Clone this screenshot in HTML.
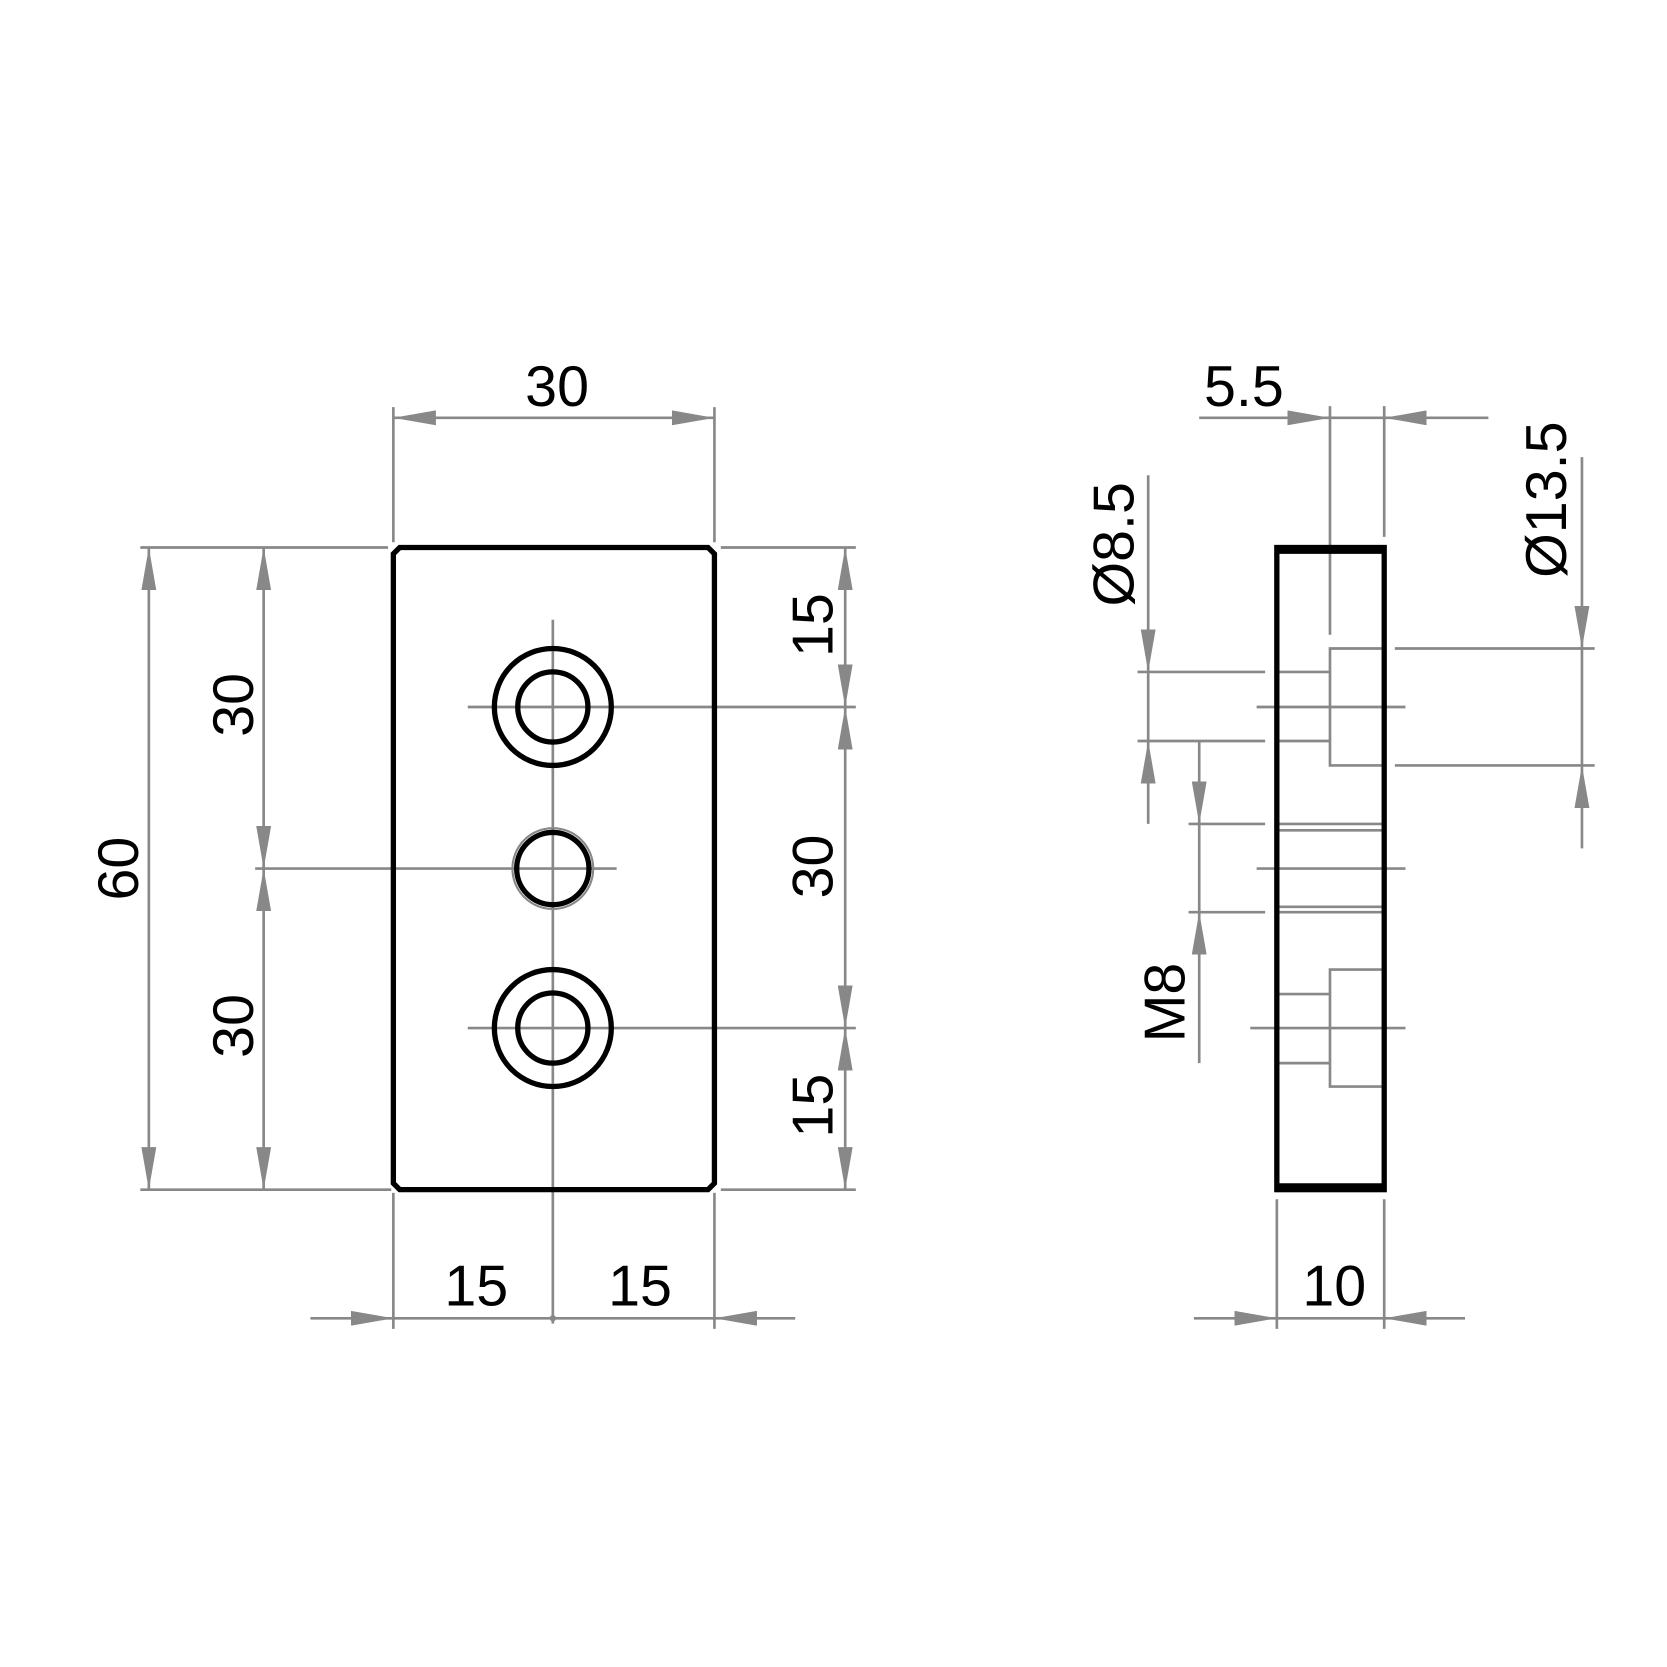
<!DOCTYPE html>
<html><head><meta charset="utf-8"><style>
html,body{margin:0;padding:0;background:#fff}
svg{display:block}
text{font-family:"Liberation Sans",sans-serif;font-size:54px;fill:#000}
</style></head><body>
<svg width="1667" height="1667" viewBox="0 0 1568 1568" xmlns="http://www.w3.org/2000/svg">
<defs>
<marker id="a" viewBox="0 0 40 14" refX="40" refY="7" markerWidth="40" markerHeight="14" markerUnits="userSpaceOnUse" orient="auto-start-reverse">
<path d="M0,0 L40,7 L0,14 z" fill="#888"/></marker>
</defs>
<g stroke="#888" stroke-width="2.5" fill="none">
<line x1="520" y1="583" x2="520" y2="1245"/>
<line x1="440" y1="665" x2="805" y2="665"/>
<line x1="240" y1="817" x2="580" y2="817"/>
<line x1="440" y1="967" x2="805" y2="967"/>
<line x1="370" y1="383" x2="370" y2="510"/>
<line x1="672" y1="383" x2="672" y2="510"/>
<line x1="132" y1="515" x2="365" y2="515"/>
<line x1="132" y1="1119" x2="368" y2="1119"/>
<line x1="678" y1="515" x2="805" y2="515"/>
<line x1="678" y1="1119" x2="805" y2="1119"/>
<line x1="370" y1="1122" x2="370" y2="1250"/>
<line x1="672" y1="1122" x2="672" y2="1250"/>
<line x1="370" y1="393" x2="672" y2="393" marker-start="url(#a)" marker-end="url(#a)"/>
<line x1="140" y1="515" x2="140" y2="1119" marker-start="url(#a)" marker-end="url(#a)"/>
<line x1="248" y1="515" x2="248" y2="817" marker-start="url(#a)" marker-end="url(#a)"/>
<line x1="248" y1="817" x2="248" y2="1119" marker-start="url(#a)" marker-end="url(#a)"/>
<line x1="795" y1="515" x2="795" y2="665" marker-start="url(#a)" marker-end="url(#a)"/>
<line x1="795" y1="665" x2="795" y2="967" marker-start="url(#a)" marker-end="url(#a)"/>
<line x1="795" y1="967" x2="795" y2="1119" marker-start="url(#a)" marker-end="url(#a)"/>
<line x1="292" y1="1240" x2="370" y2="1240" marker-end="url(#a)"/>
<line x1="370" y1="1240" x2="672" y2="1240"/>
<line x1="748" y1="1240" x2="672" y2="1240" marker-end="url(#a)"/>
<circle cx="520" cy="817" r="38" stroke-width="2"/>
<line x1="1251" y1="382" x2="1251" y2="597"/>
<line x1="1302" y1="382" x2="1302" y2="505"/>
<polyline points="1302,610 1251,610 1251,720 1302,720"/>
<line x1="1201" y1="632" x2="1251" y2="632"/>
<line x1="1201" y1="697" x2="1251" y2="697"/>
<line x1="1182" y1="665" x2="1322" y2="665"/>
<line x1="1201" y1="775" x2="1302" y2="775"/>
<line x1="1201" y1="781" x2="1302" y2="781"/>
<line x1="1201" y1="853" x2="1302" y2="853"/>
<line x1="1201" y1="858" x2="1302" y2="858"/>
<line x1="1182" y1="817" x2="1322" y2="817"/>
<polyline points="1302,912 1251,912 1251,1022 1302,1022"/>
<line x1="1201" y1="935" x2="1251" y2="935"/>
<line x1="1201" y1="1000" x2="1251" y2="1000"/>
<line x1="1176" y1="967" x2="1322" y2="967"/>
<line x1="1312" y1="610" x2="1500" y2="610"/>
<line x1="1312" y1="720" x2="1500" y2="720"/>
<line x1="1070" y1="632" x2="1190" y2="632"/>
<line x1="1070" y1="697" x2="1190" y2="697"/>
<line x1="1118" y1="775" x2="1190" y2="775"/>
<line x1="1118" y1="858" x2="1190" y2="858"/>
<line x1="1201" y1="1128" x2="1201" y2="1250"/>
<line x1="1302" y1="1128" x2="1302" y2="1250"/>
<line x1="1128" y1="393" x2="1251" y2="393" marker-end="url(#a)"/>
<line x1="1251" y1="393" x2="1302" y2="393"/>
<line x1="1400" y1="393" x2="1302" y2="393" marker-end="url(#a)"/>
<line x1="1488" y1="430" x2="1488" y2="610" marker-end="url(#a)"/>
<line x1="1488" y1="610" x2="1488" y2="720"/>
<line x1="1488" y1="798" x2="1488" y2="720" marker-end="url(#a)"/>
<line x1="1080" y1="447" x2="1080" y2="632" marker-end="url(#a)"/>
<line x1="1080" y1="632" x2="1080" y2="697"/>
<line x1="1080" y1="775" x2="1080" y2="697" marker-end="url(#a)"/>
<line x1="1128" y1="697" x2="1128" y2="775" marker-end="url(#a)"/>
<line x1="1128" y1="775" x2="1128" y2="858"/>
<line x1="1128" y1="1000" x2="1128" y2="858" marker-end="url(#a)"/>
<line x1="1123" y1="1240" x2="1201" y2="1240" marker-end="url(#a)"/>
<line x1="1201" y1="1240" x2="1302" y2="1240"/>
<line x1="1378" y1="1240" x2="1302" y2="1240" marker-end="url(#a)"/>
</g>
<circle cx="520" cy="1240" r="3" fill="#888"/>
<g stroke="#000" stroke-width="5" fill="none">
<path d="M376,515 L666,515 L672,521 L672,1113 L666,1119 L376,1119 L370,1113 L370,521 Z"/>
<circle cx="520" cy="665" r="55"/>
<circle cx="520" cy="665" r="33"/>
<circle cx="520" cy="817" r="34"/>
<circle cx="520" cy="967" r="55"/>
<circle cx="520" cy="967" r="33"/>
<rect x="1201" y="515" width="101" height="604"/>
<line x1="1199" y1="517" x2="1304" y2="517" stroke-width="8"/>
<line x1="1199" y1="1117" x2="1304" y2="1117" stroke-width="8"/>
</g>
<text x="524" y="382" text-anchor="middle">30</text>
<text x="448" y="1228" text-anchor="middle">15</text>
<text x="602" y="1228" text-anchor="middle">15</text>
<text x="1255" y="1228" text-anchor="middle">10</text>
<text x="1170" y="382" text-anchor="middle">5.5</text>
<text transform="translate(130,817) rotate(-90)" text-anchor="middle">60</text>
<text transform="translate(238,663) rotate(-90)" text-anchor="middle">30</text>
<text transform="translate(238,965) rotate(-90)" text-anchor="middle">30</text>
<text transform="translate(783,588) rotate(-90)" text-anchor="middle">15</text>
<text transform="translate(783,815) rotate(-90)" text-anchor="middle">30</text>
<text transform="translate(783,1040) rotate(-90)" text-anchor="middle">15</text>
<text transform="translate(1473,470) rotate(-90)" text-anchor="middle">Ø13.5</text>
<text transform="translate(1066,512) rotate(-90)" text-anchor="middle">Ø8.5</text>
<text transform="translate(1114,943) rotate(-90)" text-anchor="middle">M8</text>
</svg>
</body></html>
